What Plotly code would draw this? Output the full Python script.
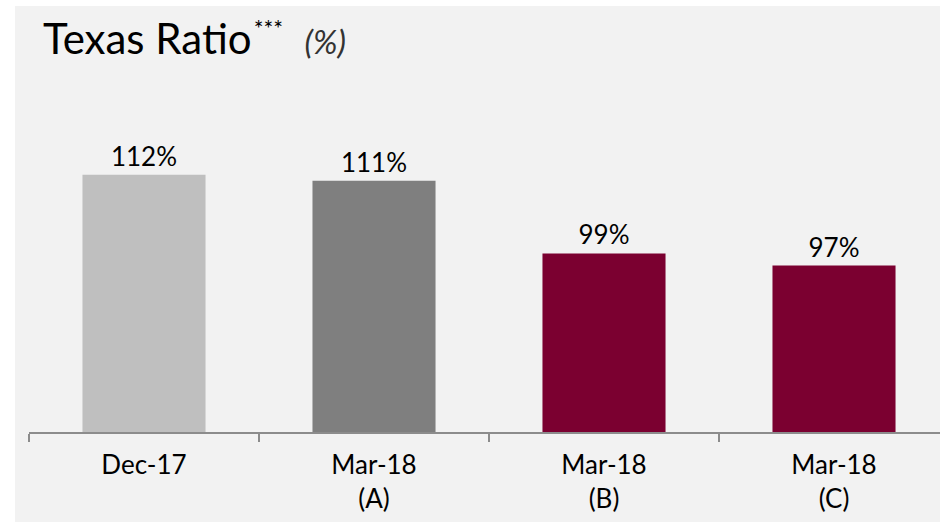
import plotly.graph_objects as go

# Texas ratio by reporting period
categories = ["Dec-17", "Mar-18<br>(A)", "Mar-18<br>(B)", "Mar-18<br>(C)"]
ratio_pct = [112, 111, 99, 97]
bar_colors = ["#bfbfbf", "#7f7f7f", "#7b0030", "#7b0030"]

W, H = 940, 524
plot_left, plot_right = 29, 940
plot_top, plot_bottom = 60, 432
pw = plot_right - plot_left
ph = plot_bottom - plot_top

fig = go.Figure(
    go.Bar(
        x=categories,
        y=ratio_pct,
        marker=dict(color=bar_colors, line=dict(width=0)),
        width=0.535,
        text=[f"{v}%" for v in ratio_pct],
        textposition="outside",
        textfont=dict(family="Lato", size=26, color="#000000"),
        constraintext="none",
        cliponaxis=False,
        hoverinfo="skip",
    )
)

# light grey panel behind the chart
fig.add_shape(
    type="rect", xref="paper", yref="paper", layer="below",
    x0=(15 - plot_left) / pw, x1=1.0,
    y0=(plot_bottom - 522) / ph, y1=(plot_bottom - 6) / ph,
    fillcolor="#f2f2f2", line=dict(width=0),
)

fig.update_layout(
    width=W, height=H,
    margin=dict(l=plot_left, r=W - plot_right, t=plot_top, b=H - plot_bottom, pad=0),
    paper_bgcolor="#ffffff",
    plot_bgcolor="rgba(0,0,0,0)",
    showlegend=False,
    font=dict(family="Lato", color="#000000"),
    title=dict(
        text="Texas Ratio<span style='font-size:8px'>&nbsp;</span>"
             "<sup><span style='font-size:23px'>***</span></sup>"
             "&nbsp;&nbsp;<span style='font-size:33px;color:#333333'><i>(%)</i></span>",
        font=dict(family="Lato", size=42, color="#000000"),
        x=43 / W, xanchor="left", xref="container",
        y=1 - 25 / H, yanchor="top", yref="container",
    ),
    xaxis=dict(
        type="category",
        range=[-0.5, -0.5 + pw / 230.0],
        tickson="boundaries",
        ticks="outside", ticklen=8, tickwidth=2, tickcolor="#8c8c8c",
        ticklabelstandoff=9,
        showline=True, linecolor="#8c8c8c", linewidth=2,
        showgrid=False, zeroline=False,
        tickfont=dict(family="Lato", size=26, color="#000000"),
        fixedrange=True,
    ),
    yaxis=dict(
        range=[69.5, 69.5 + ph / 6.053],
        visible=False, showgrid=False, zeroline=False,
        fixedrange=True,
    ),
)

fig.write_html("out.html")
